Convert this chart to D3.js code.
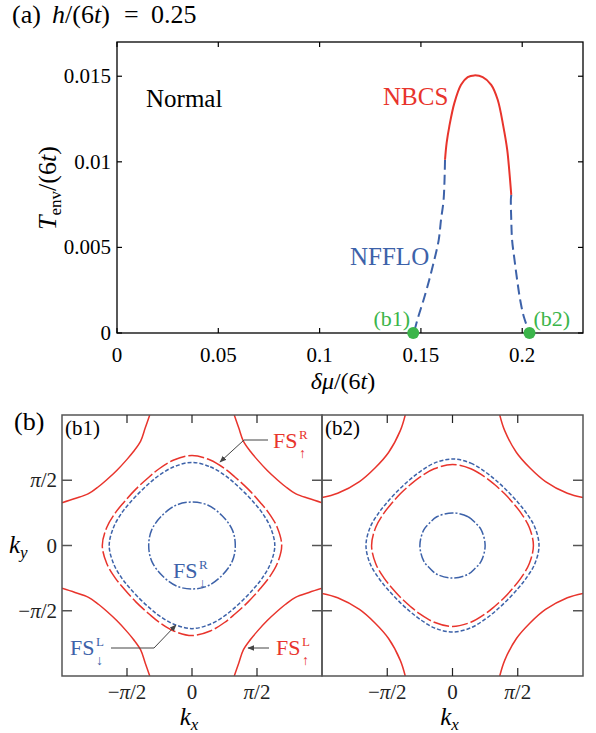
<!DOCTYPE html>
<html>
<head>
<meta charset="utf-8">
<script src="https://cdn.jsdelivr.net/npm/d3@7"></script>
<style>
  body { margin: 0; background: #fff; }
  text, tspan { font-family: "Liberation Serif", "DejaVu Serif", "Times New Roman", Times, serif; }
</style>
</head>
<body>
<div id="chart"></div>
<script>
// --- panel (a): phase boundary data ---
const xTicksA = [0, 0.05, 0.1, 0.15, 0.2];
const yTicksA = [0, 0.005, 0.01, 0.015];
const yTickLabelsA = ["0", "0.005", "0.01", "0.015"];

// NBCS (red, solid)
const nbcsMu = [0.1619, 0.1627, 0.1640, 0.1665, 0.1698, 0.1731, 0.1764, 0.1805, 0.1847, 0.1879, 0.1907, 0.1926, 0.1936, 0.1946];
const nbcsT  = [0.01012, 0.0111, 0.01206, 0.01343, 0.0145, 0.01495, 0.01505, 0.01495, 0.0145, 0.01363, 0.01206, 0.0107, 0.0095, 0.00807];

// NFFLO (blue, dashed) left and right branches
const ffloLeftMu  = [0.1619, 0.1612, 0.1599, 0.1588, 0.1566, 0.1541, 0.1513, 0.1487, 0.1465];
const ffloLeftT   = [0.01012, 0.00778, 0.0066, 0.00544, 0.00427, 0.0031, 0.00193, 0.00095, 0];
const ffloRightMu = [0.1946, 0.1944, 0.1946, 0.1950, 0.1962, 0.1975, 0.1990, 0.2008, 0.2036];
const ffloRightT  = [0.00807, 0.00778, 0.0066, 0.00544, 0.00427, 0.0031, 0.00193, 0.00095, 0];

// green markers (b1), (b2)
const markerMu = [0.1462, 0.2036];
const markerLabels = ["(b1)", "(b2)"];

// --- panel (b): Fermi surfaces, first-quadrant points in units of pi ---
const bTicks = [-0.5, 0, 0.5];
const bTickLabels = ["\u2212\u03c0/2", "0", "\u03c0/2"];

// (b1)
const b1UpL = [[0.325, 1], [0.36, 0.90], [0.395, 0.80], [0.45, 0.72], [0.50, 0.66], [0.577, 0.577],
               [0.66, 0.50], [0.72, 0.45], [0.80, 0.395], [0.90, 0.36], [1, 0.328]];
const b1UpR = [[0, 0.69], [0.14, 0.655], [0.25, 0.59], [0.33, 0.525], [0.432, 0.432],
               [0.525, 0.33], [0.59, 0.25], [0.655, 0.14], [0.69, 0]];
const b1DnL = [[0, 0.637], [0.14, 0.603], [0.25, 0.54], [0.32, 0.484], [0.405, 0.405],
               [0.484, 0.32], [0.54, 0.25], [0.603, 0.14], [0.637, 0]];
const b1DnR = [[0, 0.333], [0.12, 0.31], [0.23, 0.23], [0.31, 0.12], [0.333, 0]];

// (b2)
const b2UpL = [[0.362, 1], [0.40, 0.88], [0.49, 0.713], [0.594, 0.594], [0.713, 0.49],
               [0.88, 0.40], [1, 0.367]];
const b2UpR = [[0, 0.62], [0.14, 0.588], [0.25, 0.524], [0.32, 0.469], [0.398, 0.398],
               [0.469, 0.32], [0.524, 0.25], [0.588, 0.14], [0.62, 0]];
const b2DnL = [[0, 0.663], [0.14, 0.631], [0.25, 0.565], [0.33, 0.502], [0.419, 0.419],
               [0.502, 0.33], [0.565, 0.25], [0.631, 0.14], [0.663, 0]];
const b2DnR = [[0, 0.25], [0.12, 0.22], [0.174, 0.174], [0.22, 0.12], [0.25, 0]];

// --- colours ---
const RED = "#e8342c", BLUE = "#3d62a9", GREEN = "#3bb54a", AXG = "#555";
const SERIF = '"Liberation Serif", "DejaVu Serif", "Times New Roman", Times, serif';

const W = 596, H = 733;
const svg = d3.select("#chart").append("svg")
    .attr("width", W).attr("height", H)
    .attr("viewBox", `0 0 ${W} ${H}`)
    .style("font-family", SERIF);
svg.append("rect").attr("width", W).attr("height", H).attr("fill", "#fff");

const defs = svg.append("defs");
defs.append("marker")
    .attr("id", "arrow").attr("viewBox", "0 0 10 10")
    .attr("refX", 9).attr("refY", 5)
    .attr("markerWidth", 7).attr("markerHeight", 7)
    .attr("markerUnits", "userSpaceOnUse")
    .attr("orient", "auto")
    .append("path").attr("d", "M0,1 L10,5 L0,9 z").attr("fill", "#444");

// ================= panel (a) =================
const xA = d3.scaleLinear().domain([0, 0.23]).range([117, 583]);
const yA = d3.scaleLinear().domain([0, 0.017]).range([333, 42]);
const gA = svg.append("g");

// frame
gA.append("rect")
    .attr("x", xA(0)).attr("y", yA(0.017))
    .attr("width", xA(0.23) - xA(0)).attr("height", yA(0) - yA(0.017))
    .attr("fill", "none").attr("stroke", "#000").attr("stroke-width", 1.3);

// ticks (inward, mirrored)
const tl = 5;
xTicksA.forEach(v => {
    gA.append("line").attr("x1", xA(v)).attr("x2", xA(v)).attr("y1", yA(0)).attr("y2", yA(0) - tl)
        .attr("stroke", "#000").attr("stroke-width", 1.2);
    gA.append("line").attr("x1", xA(v)).attr("x2", xA(v)).attr("y1", yA(0.017)).attr("y2", yA(0.017) + tl)
        .attr("stroke", "#000").attr("stroke-width", 1.2);
    gA.append("text").attr("x", xA(v)).attr("y", 362).attr("text-anchor", "middle")
        .attr("font-size", 21).text(String(v));
});
yTicksA.forEach((v, i) => {
    gA.append("line").attr("x1", xA(0)).attr("x2", xA(0) + tl).attr("y1", yA(v)).attr("y2", yA(v))
        .attr("stroke", "#000").attr("stroke-width", 1.2);
    gA.append("line").attr("x1", xA(0.23)).attr("x2", xA(0.23) - tl).attr("y1", yA(v)).attr("y2", yA(v))
        .attr("stroke", "#000").attr("stroke-width", 1.2);
    gA.append("text").attr("x", 111).attr("y", yA(v) + 7).attr("text-anchor", "end")
        .attr("font-size", 21).text(yTickLabelsA[i]);
});

const lineA = d3.line().x(d => xA(d[0])).y(d => yA(d[1])).curve(d3.curveCatmullRom);
const zip = (a, b) => a.map((v, i) => [v, b[i]]);

gA.append("path").attr("d", lineA(zip(ffloLeftMu, ffloLeftT)))
    .attr("fill", "none").attr("stroke", BLUE).attr("stroke-width", 2).attr("stroke-dasharray", "10,5");
gA.append("path").attr("d", lineA(zip(ffloRightMu, ffloRightT)))
    .attr("fill", "none").attr("stroke", BLUE).attr("stroke-width", 2).attr("stroke-dasharray", "10,5");
gA.append("path").attr("d", lineA(zip(nbcsMu, nbcsT)))
    .attr("fill", "none").attr("stroke", RED).attr("stroke-width", 2);

gA.selectAll(".mk").data(markerMu).enter().append("circle")
    .attr("cx", d => xA(d)).attr("cy", yA(0)).attr("r", 6).attr("fill", GREEN);
gA.append("text").attr("x", xA(markerMu[0]) - 3).attr("y", 326).attr("text-anchor", "end")
    .attr("font-size", 22).attr("fill", GREEN).text(markerLabels[0]);
gA.append("text").attr("x", xA(markerMu[1]) + 4).attr("y", 326)
    .attr("font-size", 22).attr("fill", GREEN).text(markerLabels[1]);

// phase labels
gA.append("text").attr("x", 146).attr("y", 107).attr("font-size", 25).text("Normal");
gA.append("text").attr("x", 383).attr("y", 105).attr("font-size", 25).attr("fill", RED).text("NBCS");
gA.append("text").attr("x", 350).attr("y", 265).attr("font-size", 25).attr("fill", BLUE).text("NFFLO");

// title
svg.append("text").attr("x", 12).attr("y", 23).attr("font-size", 26).text("(a)");
const t1 = svg.append("text").attr("x", 52).attr("y", 23).attr("font-size", 26);
t1.append("tspan").attr("font-style", "italic").text("h");
t1.append("tspan").text("/(6");
t1.append("tspan").attr("font-style", "italic").text("t");
t1.append("tspan").text(")");
svg.append("text").attr("x", 124).attr("y", 23).attr("font-size", 26).text("=");
svg.append("text").attr("x", 151).attr("y", 23).attr("font-size", 26).text("0.25");

// axis labels (a)
const xl = svg.append("text").attr("x", 343).attr("y", 389).attr("text-anchor", "middle").attr("font-size", 24);
xl.append("tspan").attr("font-style", "italic").text("\u03b4\u03bc");
xl.append("tspan").text("/(6");
xl.append("tspan").attr("font-style", "italic").text("t");
xl.append("tspan").text(")");

const yl = svg.append("text").attr("transform", "translate(56,188) rotate(-90)")
    .attr("text-anchor", "middle").attr("font-size", 26);
yl.append("tspan").attr("font-style", "italic").text("T");
yl.append("tspan").attr("font-size", 17).attr("dy", 5).text("env");
yl.append("tspan").attr("dy", -5).text("/(6");
yl.append("tspan").attr("font-style", "italic").text("t");
yl.append("tspan").text(")");

// ================= panel (b) =================
const yB = d3.scaleLinear().domain([-1, 1]).range([676, 415]);
const panels = [
    { id: "b1", x: d3.scaleLinear().domain([-1, 1]).range([62, 322]),
      upL: b1UpL, upR: b1UpR, dnL: b1DnL, dnR: b1DnR, label: "(b1)" },
    { id: "b2", x: d3.scaleLinear().domain([-1, 1]).range([322, 583]),
      upL: b2UpL, upR: b2UpR, dnL: b2DnL, dnR: b2DnR, label: "(b2)" }
];

// mirror a first-quadrant arc (top -> right) into a closed loop
function closedLoop(q) {
    const q1 = q.slice();
    const q4 = q.slice().reverse().map(d => [d[0], -d[1]]).slice(1);
    const q3 = q.map(d => [-d[0], -d[1]]).slice(1);
    const q2 = q.slice().reverse().map(d => [-d[0], d[1]]).slice(1, -1);
    return q1.concat(q4, q3, q2);
}

function writeTick(t, s) {
    if (s === "0") { t.text("0"); return; }
    if (s.startsWith("\u2212")) t.append("tspan").text("\u2212");
    t.append("tspan").attr("font-style", "italic").text("\u03c0");
    t.append("tspan").text("/2");
}

panels.forEach(p => {
    const g = svg.append("g");
    const x0 = p.x.range()[0], x1 = p.x.range()[1];
    const clipId = "clip-" + p.id;
    defs.append("clipPath").attr("id", clipId).append("rect")
        .attr("x", x0).attr("y", yB(1)).attr("width", x1 - x0).attr("height", yB(-1) - yB(1));

    const lineB = d3.line().x(d => p.x(d[0])).y(d => yB(d[1]));
    const cg = g.append("g").attr("clip-path", `url(#${clipId})`);

    // corner pockets FS_up^L (solid red)
    [[1, 1], [-1, 1], [1, -1], [-1, -1]].forEach(s => {
        cg.append("path")
            .attr("d", lineB.curve(d3.curveCatmullRom)(p.upL.map(d => [d[0] * s[0], d[1] * s[1]])))
            .attr("fill", "none").attr("stroke", RED).attr("stroke-width", 1.5);
    });
    // FS_up^R (long dashed red)
    cg.append("path").attr("d", lineB.curve(d3.curveCatmullRomClosed)(closedLoop(p.upR)))
        .attr("fill", "none").attr("stroke", RED).attr("stroke-width", 1.5).attr("stroke-dasharray", "16,3");
    // FS_down^L (short dashed blue)
    cg.append("path").attr("d", lineB.curve(d3.curveCatmullRomClosed)(closedLoop(p.dnL)))
        .attr("fill", "none").attr("stroke", BLUE).attr("stroke-width", 1.5).attr("stroke-dasharray", "4,2");
    // FS_down^R (dash-dot blue)
    cg.append("path").attr("d", lineB.curve(d3.curveCatmullRomClosed)(closedLoop(p.dnR)))
        .attr("fill", "none").attr("stroke", BLUE).attr("stroke-width", 1.5).attr("stroke-dasharray", "9,2,2,2");

    // frame
    g.append("rect").attr("x", x0).attr("y", yB(1)).attr("width", x1 - x0).attr("height", yB(-1) - yB(1))
        .attr("fill", "none").attr("stroke", AXG).attr("stroke-width", 1.5);

    const tk = 8;
    bTicks.forEach((v, i) => {
        g.append("line").attr("x1", p.x(v)).attr("x2", p.x(v)).attr("y1", yB(-1)).attr("y2", yB(-1) - tk)
            .attr("stroke", "#222").attr("stroke-width", 1.2);
        g.append("line").attr("x1", p.x(v)).attr("x2", p.x(v)).attr("y1", yB(1)).attr("y2", yB(1) + tk)
            .attr("stroke", "#222").attr("stroke-width", 1.2);
        g.append("line").attr("x1", x0).attr("x2", x0 + 10).attr("y1", yB(v)).attr("y2", yB(v))
            .attr("stroke", AXG).attr("stroke-width", 1.5);
        g.append("line").attr("x1", x1).attr("x2", x1 - 10).attr("y1", yB(v)).attr("y2", yB(v))
            .attr("stroke", AXG).attr("stroke-width", 1.5);
        const t = g.append("text").attr("x", p.x(v)).attr("y", 699).attr("text-anchor", "middle")
            .attr("font-size", 21).attr("fill", "#222");
        writeTick(t, bTickLabels[i]);
    });
    g.append("text").attr("x", x0 + 3).attr("y", yB(1) + 20).attr("font-size", 21).text(p.label);

    const kx = g.append("text").attr("x", p.x(0) - 3).attr("y", 725).attr("text-anchor", "middle").attr("font-size", 25);
    kx.append("tspan").attr("font-style", "italic").text("k");
    kx.append("tspan").attr("font-style", "italic").attr("font-size", 17).attr("dy", 5).text("x");
});

// y tick labels (b1 only)
bTicks.forEach((v, i) => {
    const t = svg.append("text").attr("x", 57).attr("y", yB(v) + 7).attr("text-anchor", "end")
        .attr("font-size", 21).attr("fill", "#222");
    writeTick(t, bTickLabels[i]);
});
const ky = svg.append("text").attr("x", 9).attr("y", 553).attr("font-size", 25);
ky.append("tspan").attr("font-style", "italic").text("k");
ky.append("tspan").attr("font-style", "italic").attr("font-size", 17).attr("dy", 5).text("y");

svg.append("text").attr("x", 14).attr("y", 430).attr("font-size", 26).text("(b)");

// Fermi surface labels + arrows
function fsLabel(x, y, sup, sub, color) {
    svg.append("text").attr("x", x).attr("y", y).attr("font-size", 22).attr("fill", color).text("FS");
    svg.append("text").attr("x", x + 26).attr("y", y - 9).attr("font-size", 13).attr("fill", color).text(sup);
    svg.append("text").attr("x", x + 26).attr("y", y + 10).attr("font-size", 14).attr("fill", color).text(sub);
}
fsLabel(273, 448, "R", "\u2191", RED);
fsLabel(70, 655, "L", "\u2193", BLUE);
fsLabel(276, 655, "L", "\u2191", RED);
fsLabel(173, 578, "R", "\u2193", BLUE);

const arrowLine = d3.line();
[
    [[268, 440], [244, 440], [220, 462]],
    [[111, 648], [154, 648], [176, 625]],
    [[269, 648], [248, 648]]
].forEach(pts => {
    svg.append("path").attr("d", arrowLine(pts)).attr("fill", "none")
        .attr("stroke", "#444").attr("stroke-width", 1).attr("marker-end", "url(#arrow)");
});
</script>
</body>
</html>
